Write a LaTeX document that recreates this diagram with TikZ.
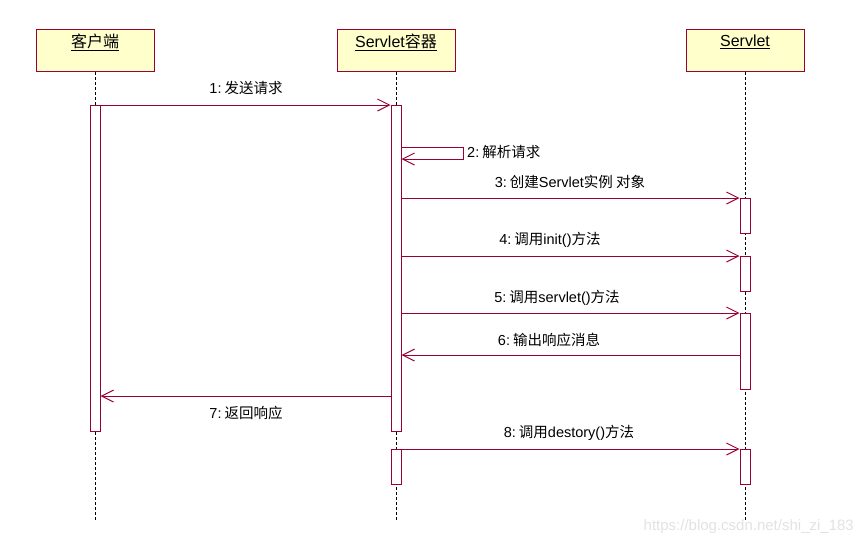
\documentclass[tikz,border=0pt]{standalone}
\usepackage{fontspec}
\setmainfont{Liberation Sans}
\newfontfamily\cjk{Noto Sans CJK SC}
\usetikzlibrary{arrows.meta}
\definecolor{lc}{HTML}{990033}
\definecolor{boxfill}{HTML}{FFFFCC}
\definecolor{wm}{HTML}{E2E2E2}
\tikzset{
  actor/.style={draw=lc, fill=boxfill, line width=1pt, minimum width=118pt, minimum height=42pt, inner sep=0pt, anchor=north},
  ttl/.style={font=\fontsize{16}{18}\selectfont, inner sep=0pt},
  bar/.style={draw=lc, fill=white, line width=1pt, minimum width=10pt, inner sep=0pt, anchor=north},
  life/.style={dash pattern=on 3pt off 2pt, line width=1pt},
  msg/.style={draw=lc, line width=1pt, -{Straight Barb[length=12pt,width=12pt,line width=1pt]}},
  lbl/.style={font=\fontsize{14.5}{16}\selectfont, inner sep=0pt}
}
\begin{document}
\begin{tikzpicture}[x=1pt,y=-1pt]
\useasboundingbox (0,0) rectangle (863,547);
% actors
\node[actor] (A) at (95,29) {};
\node[actor] (B) at (396,29) {};
\node[actor] (C) at (745,29) {};
\node[ttl] (At) at (95,42) {\underline{\cjk 客户端}};
\node[ttl] (Bt) at (396,42) {\underline{Servlet{\cjk 容器}}};
\node[ttl] (Ct) at (745,42) {\underline{Servlet}};
% lifelines
\coordinate (Aend) at (95,520);
\coordinate (Bend) at (396,520);
\coordinate (Cend) at (745,520);
\draw[life] (A.south) -- (Aend);
\draw[life] (B.south) -- (Bend);
\draw[life] (C.south) -- (Cend);
% activation bars
\node[bar, minimum height=326pt] (a1) at (95,105) {};
\node[bar, minimum height=326pt] (b1) at (396,105) {};
\node[bar, minimum height=35pt] (b2) at (396,449) {};
\node[bar, minimum height=35pt] (c1) at (745,198) {};
\node[bar, minimum height=35pt] (c2) at (745,256) {};
\node[bar, minimum height=76pt] (c3) at (745,313) {};
\node[bar, minimum height=35pt] (c4) at (745,449) {};
% messages
\draw[msg] (a1.north east) -- (b1.north west);
\coordinate (s1) at (463,147);
\coordinate (s2) at (463,159);
\draw[msg] (b1.east |- s1) -- (s1) -- (s2) -- (b1.east |- s2);
\draw[msg] (b1.east |- c1.north) -- (c1.north west);
\draw[msg] (b1.east |- c2.north) -- (c2.north west);
\draw[msg] (b1.east |- c3.north) -- (c3.north west);
\coordinate (m6) at (745,355);
\draw[msg] (c3.west |- m6) -- (b1.east |- m6);
\coordinate (m7) at (95,396);
\draw[msg] (b1.west |- m7) -- (a1.east |- m7);
\draw[msg] (b2.north east) -- (c4.north west);
% labels
\node[lbl] (l1) at (246,88) {1:\hspace{3pt}{\cjk 发送请求}};
\node[lbl, anchor=west] (l2) at (467,152) {2:\hspace{3pt}{\cjk 解析请求}};
\node[lbl] (l3) at (570,182) {3:\hspace{3pt}{\cjk 创建}Servlet{\cjk 实例 对象}};
\node[lbl] (l4) at (550,240) {4:\hspace{3pt}{\cjk 调用}init(){\cjk 方法}};
\node[lbl] (l5) at (557,298) {5:\hspace{3pt}{\cjk 调用}servlet(){\cjk 方法}};
\node[lbl] (l6) at (549,340) {6:\hspace{3pt}{\cjk 输出响应消息}};
\node[lbl] (l7) at (246,413) {7:\hspace{3pt}{\cjk 返回响应}};
\node[lbl] (l8) at (569,433) {8:\hspace{3pt}{\cjk 调用}destory(){\cjk 方法}};
% watermark
\node[font=\fontsize{15}{17}\selectfont, text=wm, anchor=east, inner sep=0pt] (w) at (854,527) {https://blog.csdn.net/shi\_zi\_183};
\end{tikzpicture}
\end{document}
